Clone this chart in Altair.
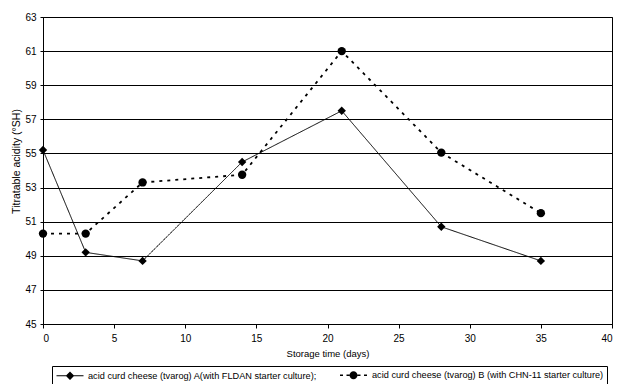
import altair as alt
import pandas as pd

days = [0, 3, 7, 14, 21, 28, 35]
series_a = [55.2, 49.2, 48.7, 54.5, 57.5, 50.7, 48.7]
series_b = [50.3, 50.3, 53.3, 53.75, 61.0, 55.05, 51.5]
name_a = "acid curd cheese (tvarog) A(with FLDAN starter culture);"
name_b = "acid curd cheese (tvarog) B (with CHN-11 starter culture)"
y_ticks = [45, 47, 49, 51, 53, 55, 57, 59, 61, 63]
x_ticks = [0, 5, 10, 15, 20, 25, 30, 35, 40]

rows = []
for d, v in zip(days, series_a):
    rows.append({"day": d, "value": v, "series": name_a})
for d, v in zip(days, series_b):
    rows.append({"day": d, "value": v, "series": name_b})
df = pd.DataFrame(rows)

FONT = "Liberation Sans"
names = [name_a, name_b]

x_enc = alt.X(
    "day:Q",
    scale=alt.Scale(domain=[0, 40], nice=False),
    axis=alt.Axis(
        values=x_ticks, title="Storage time (days)", grid=False,
        tickSize=4, labelPadding=5, titlePadding=5,
        labelFontSize=10, titleFontSize=9.5, titleFontWeight="normal",
        domainColor="black", tickColor="black", labelColor="black", titleColor="black",
        labelFont=FONT, titleFont=FONT,
    ),
)
y_enc = alt.Y(
    "value:Q",
    scale=alt.Scale(domain=[45, 63], nice=False, zero=False),
    axis=alt.Axis(
        values=y_ticks, title="Titratable acidity (°SH)", grid=True,
        gridColor="black", gridOpacity=1, gridWidth=1,
        tickSize=3, labelPadding=4, titlePadding=3, titleY=144,
        labelFontSize=10, titleFontSize=10.5, titleFontWeight="normal",
        domainColor="black", tickColor="black", labelColor="black", titleColor="black",
        labelFont=FONT, titleFont=FONT,
    ),
)

# legend symbol glyphs (unit = 5 px): a short line with the marker in its middle,
# drawn as filled shapes so that they need no stroke
diamond_line = (
    "M-2.7,-0.1H2.7V0.1H-2.7Z"
    "M0,-0.85L0.85,0L0,0.85L-0.85,0Z"
)
circle_line = (
    "M-2.7,-0.15H-2.1V0.15H-2.7Z"
    "M-1.4,-0.15H-0.8V0.15H-1.4Z"
    "M0.8,-0.15H1.4V0.15H0.8Z"
    "M2.1,-0.15H2.7V0.15H2.1Z"
    "M-0.8,0A0.8,0.8 0 1,0 0.8,0A0.8,0.8 0 1,0 -0.8,0Z"
)


def make_legend():
    return alt.Legend(
        title=None, orient="none", direction="horizontal",
        legendX=9, legendY=349,
        strokeColor="black", padding=3, columnPadding=19,
        symbolSize=100, symbolStrokeWidth=1, symbolOffset=9.5, labelOffset=12.5,
        symbolFillColor="black", symbolStrokeColor="black", symbolOpacity=1,
        labelFontSize=9.2, labelFont=FONT, labelColor="black", labelLimit=400,
    )


lines = alt.Chart(df).mark_line(color="black").encode(
    x=x_enc,
    y=y_enc,
    strokeDash=alt.StrokeDash(
        "series:N",
        scale=alt.Scale(domain=names, range=[[1, 0], [3, 5]]),
        legend=make_legend(),
    ),
    strokeWidth=alt.StrokeWidth(
        "series:N",
        scale=alt.Scale(domain=names, range=[1, 1.8]),
        legend=None,
    ),
)

points_a = alt.Chart(df).transform_filter(
    alt.datum.series == name_a
).mark_point(filled=True, color="black", opacity=1, shape="diamond", size=70).encode(
    x=x_enc, y=y_enc
)
points_b = alt.Chart(df).transform_filter(
    alt.datum.series == name_b
).mark_point(filled=True, color="black", opacity=1, shape="circle", size=70).encode(
    x=x_enc, y=y_enc
)

legend_carrier = alt.Chart(df).mark_point(
    filled=True, fill="black", stroke="black", strokeWidth=1, size=0
).encode(
    x=x_enc,
    y=y_enc,
    shape=alt.Shape(
        "series:N",
        scale=alt.Scale(domain=names, range=[diamond_line, circle_line]),
        legend=make_legend(),
    ),
    strokeDash=alt.StrokeDash("series:N", legend=make_legend()),
)

chart = (
    alt.layer(lines, points_a, points_b, legend_carrier)
    .properties(
        width=569, height=307,
        autosize=alt.AutoSizeParams(type="none"),
        padding={"left": 35, "top": 9, "right": 5, "bottom": 60},
        background="white",
    )
    .configure_view(stroke="black", strokeWidth=1)
)

chart.save("out.html", embed_options={"renderer": "svg", "actions": False})
